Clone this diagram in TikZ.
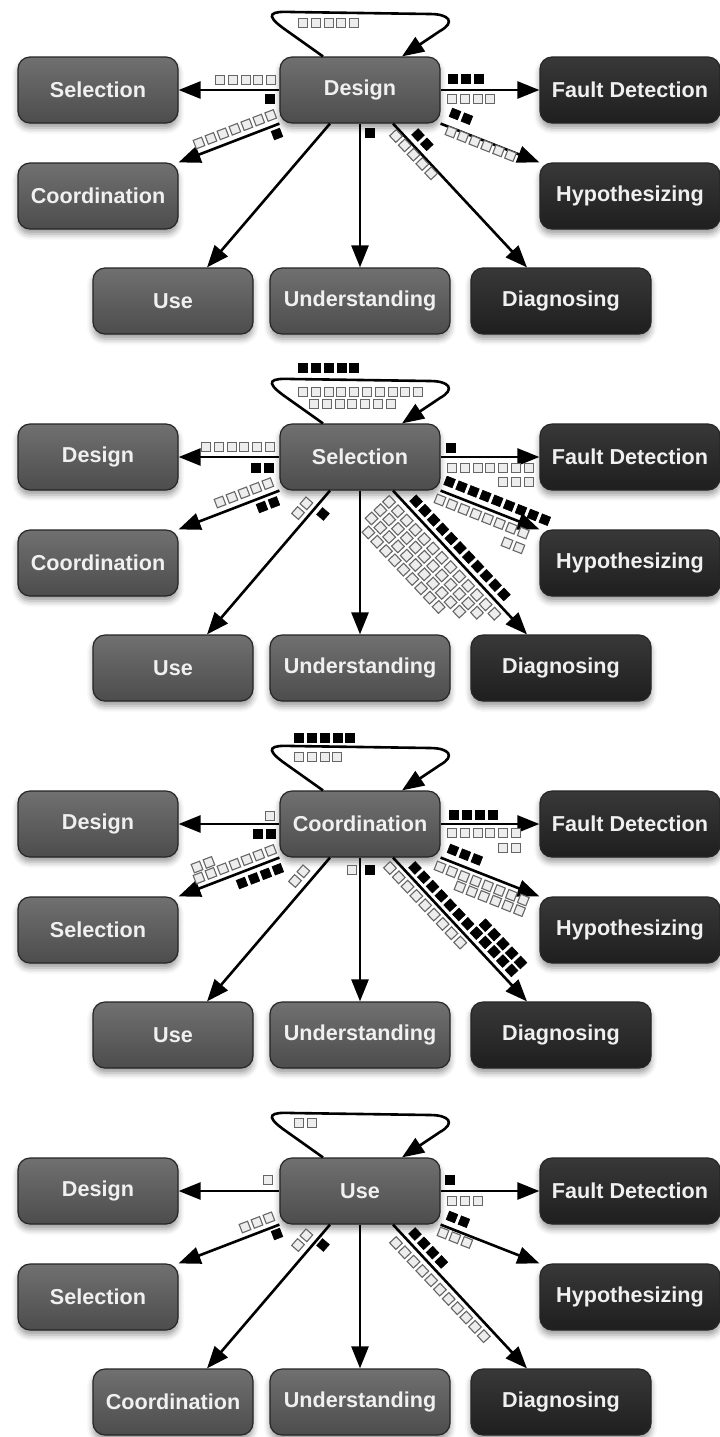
\documentclass[tikz,border=0pt]{standalone}
\usepackage{fontspec}
\setmainfont{Liberation Sans}
\usetikzlibrary{calc,arrows.meta,shadows.blur}

\tikzset{
  box/.style={rounded corners=6pt, minimum height=33pt, inner sep=2pt,
    draw=black!85, line width=0.6pt, text=white!94!black,
    font=\bfseries\fontsize{10.8}{13}\selectfont,
    blur shadow={shadow xshift=0pt, shadow yshift=-2.5pt, shadow blur radius=3pt, shadow opacity=40}},
  pale/.style={box, minimum width=80pt, top color=black!56, bottom color=black!70},
  wide/.style={pale, minimum width=90pt},
  dark/.style={box, minimum width=90pt, top color=black!78, bottom color=black!88},
  link/.style={line width=1.3pt, -{Triangle[length=11pt,width=8.5pt]}},
  loop/.style={line width=1.3pt, -{Triangle[length=11pt,width=8.5pt]}},
  op/.style={draw=black!60, fill=black!7, line width=0.55pt},
  fl/.style={draw=black, fill=black, line width=0.3pt}
}

% #1 = first centre, #2 = angle, #3 = how many, #4 = style
\newcommand{\sqrow}[4]{%
  \begin{scope}[shift={(#1)}, rotate={-(#2)}]
    \foreach \k in {1,...,#3}
      \draw[#4] ({12.8*\k-12.8-4.5},-4.5) rectangle ++(9,9);
  \end{scope}}

% #1 = name, #2 = centre, #3 = left top, #4 = left bottom, #5 = bottom left
\newcommand{\panel}[5]{%
  \node[pale] (#1) at (360,90) {#2};
  \node[pale] (#1-lt) at (98,90) {#3};
  \node[pale] (#1-lb) at (98,196) {#4};
  \node[pale] (#1-bl) at (173,301) {#5};
  \node[wide] (#1-bm) at (360,301) {Understanding};
  \node[dark] (#1-br) at (561,301) {Diagnosing};
  \node[dark] (#1-rt) at (630,90) {Fault Detection};
  \node[dark] (#1-rb) at (630,196) {Hypothesizing};
  \draw[loop] ([xshift=-18.5pt]#1.north) -- (283,28)
    .. controls (264,14) and (271,11) .. (292,12) -- (430,14)
    .. controls (449,14) and (456,22) .. (440,31) -- ([xshift=21pt]#1.north);
  \draw[link] (#1.west) -- (#1-lt.east);
  \draw[link] (#1.south west) -- (#1-lb.north east);
  \draw[link] ([xshift=-15pt]#1.south) -- ([xshift=17pt]#1-bl.north);
  \draw[link] (#1.south) -- (#1-bm.north);
  \draw[link] ([xshift=16.5pt]#1.south) -- ([xshift=-17pt]#1-br.north);
  \draw[link] (#1.east) -- (#1-rt.west);
  \draw[link] (#1.south east) -- (#1-rb.north west);
}

\begin{document}
\begin{tikzpicture}[x=0.5pt,y=-0.5pt]
\useasboundingbox (0,0) rectangle (719,1437);

\begin{scope}
  \panel{dsg}{Design}{Selection}{Coordination}{Use}
  \sqrow{303,23}{0}{5}{op}
  \sqrow{220,80}{0}{5}{op}
  \sqrow{270,99}{0}{1}{fl}
  \sqrow{199,143}{-21}{7}{op}
  \sqrow{277,134}{-21}{1}{fl}
  \sqrow{370,133}{0}{1}{fl}
  \sqrow{396,136}{46.7}{5}{op}
  \sqrow{418,135}{46.7}{2}{fl}
  \sqrow{453,79}{0}{3}{fl}
  \sqrow{452,99}{0}{4}{op}
  \sqrow{455,114}{21.6}{2}{fl}
  \sqrow{451,132}{21.6}{6}{op}
\end{scope}

\begin{scope}[shift={(0,367)}]
  \panel{sel}{Selection}{Design}{Coordination}{Use}
  \sqrow{303,1}{0}{5}{fl}
  \sqrow{303,25}{0}{10}{op}
  \sqrow{314,37}{0}{7}{op}
  \sqrow{206,80}{0}{6}{op}
  \sqrow{256,101}{0}{2}{fl}
  \sqrow{220,135}{-21}{5}{op}
  \sqrow{262,140}{-21}{2}{fl}
  \sqrow{298,146}{-49}{2}{op}
  \sqrow{323,147}{-49}{1}{fl}
  \sqrow{389.1,134.9}{46.7}{13}{op}
  \sqrow{380.4,143.2}{46.7}{12}{op}
  \sqrow{371.6,151.4}{46.7}{11}{op}
  \sqrow{368.4,165.4}{46.7}{9}{op}
  \sqrow{416.1,134.3}{46.7}{11}{fl}
  \sqrow{451,81}{0}{1}{fl}
  \sqrow{452,101}{0}{7}{op}
  \sqrow{503,115}{0}{3}{op}
  \sqrow{449.6,115}{21.6}{9}{fl}
  \sqrow{440,133}{21.6}{8}{op}
  \sqrow{507,176}{21.6}{2}{op}
\end{scope}

\begin{scope}[shift={(0,734)}]
  \panel{coo}{Coordination}{Design}{Selection}{Use}
  \sqrow{299,4}{0}{5}{fl}
  \sqrow{299,23}{0}{4}{op}
  \sqrow{270,82}{0}{1}{op}
  \sqrow{258,100}{0}{2}{fl}
  \sqrow{199,144}{-21}{7}{op}
  \sqrow{197,133}{-21}{2}{op}
  \sqrow{242,149}{-21}{4}{fl}
  \sqrow{295,147}{-49}{2}{op}
  \sqrow{352,136}{0}{1}{op}
  \sqrow{370,136}{0}{1}{fl}
  \sqrow{390,134}{46.7}{9}{op}
  \sqrow{415,133.9}{46.7}{12}{fl}
  \sqrow{485.4,191.2}{46.7}{5}{fl}
  \sqrow{454,81}{0}{4}{fl}
  \sqrow{452,99}{0}{6}{op}
  \sqrow{503.2,114}{0}{2}{op}
  \sqrow{453,116}{21.6}{3}{fl}
  \sqrow{440,133}{21.6}{8}{op}
  \sqrow{460,153}{21.6}{6}{op}
\end{scope}

\begin{scope}[shift={(0,1101)}]
  \panel{use}{Use}{Design}{Selection}{Coordination}
  \sqrow{299,22}{0}{2}{op}
  \sqrow{268,79}{0}{1}{op}
  \sqrow{245,126}{-21}{3}{op}
  \sqrow{277,133}{-21}{1}{fl}
  \sqrow{298,144}{-49}{2}{op}
  \sqrow{323,144}{-49}{1}{fl}
  \sqrow{396,142}{46.7}{11}{op}
  \sqrow{415,133}{46.7}{4}{fl}
  \sqrow{450,79}{0}{1}{fl}
  \sqrow{452,100}{0}{3}{op}
  \sqrow{452,116}{21.6}{2}{fl}
  \sqrow{443,132}{21.6}{3}{op}
\end{scope}
\end{tikzpicture}
\end{document}
